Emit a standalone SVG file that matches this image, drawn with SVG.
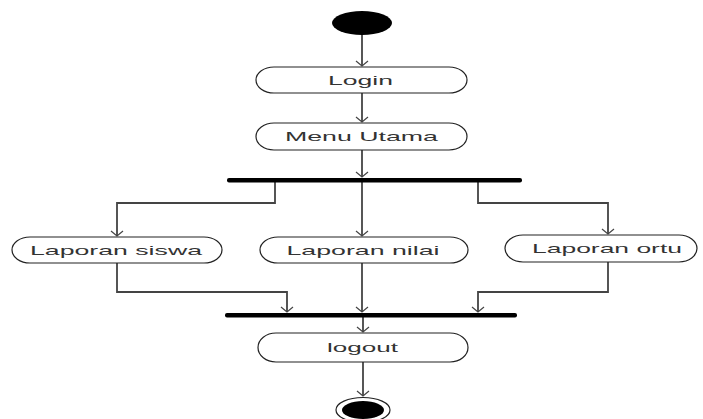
<svg xmlns="http://www.w3.org/2000/svg" width="703" height="419" viewBox="0 0 703 419">
<style>
.node{fill:#fff;stroke:#222;stroke-width:1.2}
.lbl{font-family:"Liberation Sans",Arial,sans-serif;font-size:13.5px;fill:#333;text-anchor:middle}
.edge{fill:none;stroke:#444;stroke-width:1.8}
.bar{fill:#000}
</style>
<defs>
<marker id="arr" markerUnits="userSpaceOnUse" markerWidth="14" markerHeight="14" viewBox="-7 -7 14 14" refX="0" refY="0" orient="auto">
<path d="M-5,-6 L0,0 L-5,6" fill="none" stroke="#444" stroke-width="1.2"/>
</marker>
</defs>
<rect width="703" height="419" fill="#fff"/>
<g id="connectors">
<path class="edge" d="M362,35 V66" marker-end="url(#arr)"/>
<path class="edge" d="M362,93 V122" marker-end="url(#arr)"/>
<path class="edge" d="M362,150 V177" marker-end="url(#arr)"/>
<path class="edge" d="M275,182 V203 H117 V236" marker-end="url(#arr)"/>
<path class="edge" d="M362,182 V236" marker-end="url(#arr)"/>
<path class="edge" d="M478,182 V203 H608 V234" marker-end="url(#arr)"/>
<path class="edge" d="M117,263 V292 H287 V312" marker-end="url(#arr)"/>
<path class="edge" d="M362,263 V312" marker-end="url(#arr)"/>
<path class="edge" d="M608,262 V292 H478 V312" marker-end="url(#arr)"/>
<path class="edge" d="M363,317 V332" marker-end="url(#arr)"/>
<path class="edge" d="M363,362 V396" marker-end="url(#arr)"/>
</g>
<g id="start"><ellipse cx="362" cy="23" rx="30" ry="12" fill="#000"/></g>
<g id="login"><rect class="node" x="256" y="67" width="211" height="26" rx="18" ry="13"/><text class="lbl" x="360.5" y="84.5" textLength="65" lengthAdjust="spacingAndGlyphs">Login</text></g>
<g id="menu"><rect class="node" x="256" y="123" width="211" height="27" rx="18" ry="13.5"/><text class="lbl" x="361.5" y="141" textLength="153" lengthAdjust="spacingAndGlyphs">Menu Utama</text></g>
<g id="fork"><rect class="bar" x="227" y="178" width="295" height="4.5" rx="2"/></g>
<g id="siswa"><rect class="node" x="12" y="237" width="210" height="26" rx="18" ry="13"/><text class="lbl" x="116" y="254.5" textLength="172" lengthAdjust="spacingAndGlyphs">Laporan siswa</text></g>
<g id="nilai"><rect class="node" x="260" y="237" width="208" height="26" rx="18" ry="13"/><text class="lbl" x="363" y="254.5" textLength="153" lengthAdjust="spacingAndGlyphs">Laporan nilai</text></g>
<g id="ortu"><rect class="node" x="505" y="235" width="192" height="27" rx="18" ry="13.5"/><text class="lbl" x="607" y="252.5" textLength="150" lengthAdjust="spacingAndGlyphs">Laporan ortu</text></g>
<g id="join"><rect class="bar" x="225" y="313" width="292" height="4.5" rx="2"/></g>
<g id="logout"><rect class="node" x="258" y="333" width="210" height="29" rx="18" ry="14.5"/><text class="lbl" x="362.5" y="352" textLength="71" lengthAdjust="spacingAndGlyphs">logout</text></g>
<g id="end"><ellipse cx="363" cy="410" rx="27" ry="12.5" fill="#fff" stroke="#222" stroke-width="1.2"/><ellipse cx="363" cy="410" rx="21" ry="9" fill="#000"/></g>
</svg>
